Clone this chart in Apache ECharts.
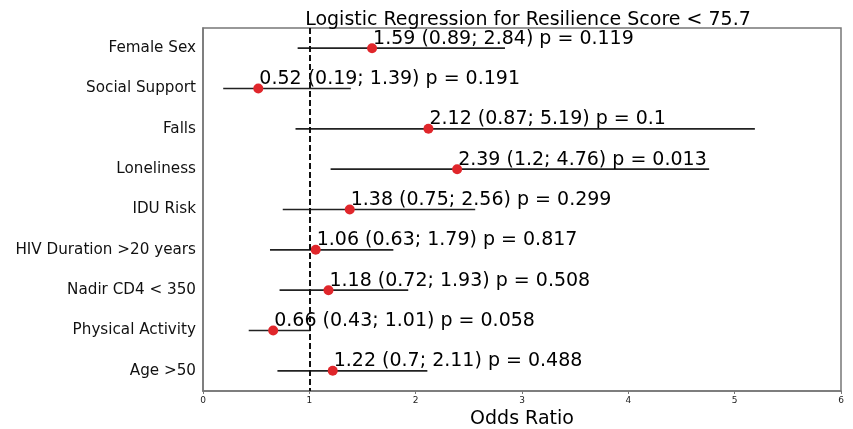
<!DOCTYPE html>
<html><head><meta charset="utf-8">
<script src="https://cdn.jsdelivr.net/npm/echarts@6/dist/echarts.min.js"></script>
<style>html,body{margin:0;padding:0;background:#fff}#c{width:853px;height:429px}</style>
</head><body><div id="c"></div>
<script>
var categories = ["Female Sex","Social Support","Falls","Loneliness","IDU Risk","HIV Duration >20 years","Nadir CD4 < 350","Physical Activity","Age >50"];
var oddsRatio = [1.59,0.52,2.12,2.39,1.38,1.06,1.18,0.66,1.22];
var ciLow = [0.89,0.19,0.87,1.2,0.75,0.63,0.72,0.43,0.7];
var ciHigh = [2.84,1.39,5.19,4.76,2.56,1.79,1.93,1.01,2.11];
var pValues = ["0.119","0.191","0.1","0.013","0.299","0.817","0.508","0.058","0.488"];
var xTicks = [0,1,2,3,4,5,6];

var font = "DejaVu Sans";
var chart = echarts.init(document.getElementById('c'));
var ciData = categories.map(function(c,i){return [ciLow[i], ciHigh[i], i];});
var ptData = categories.map(function(c,i){return [oddsRatio[i], i];});
chart.setOption({
  animation:false,
  title:{text:"Logistic Regression for Resilience Score < 75.7",left:523,textAlign:'center',top:6,
    textStyle:{fontFamily:font,fontSize:19,fontWeight:'normal',color:'#000'}},
  grid:{left:203,right:12,top:28,bottom:38,containLabel:false,outerBoundsMode:'none',
    show:true,borderColor:'#777',borderWidth:1.5},
  xAxis:{type:'value',min:xTicks[0],max:xTicks[xTicks.length-1],interval:1,
    name:'Odds Ratio',nameLocation:'middle',nameGap:17,
    nameTextStyle:{fontFamily:font,fontSize:19,color:'#000'},
    axisLine:{show:true,lineStyle:{color:'#777',width:1.5}},
    axisTick:{show:true,length:3,lineStyle:{color:'#777'}},
    axisLabel:{fontFamily:font,fontSize:9,color:'#222',margin:5},
    splitLine:{show:false}},
  yAxis:{type:'category',data:categories,inverse:true,
    axisLine:{show:true,lineStyle:{color:'#777',width:1.5}},
    axisTick:{show:false},
    axisLabel:{fontFamily:font,fontSize:15.2,color:'#111',margin:7},
    splitLine:{show:false}},
  series:[
    {type:'custom',data:ciData,encode:{x:[0,1],y:2},z:2,
     renderItem:function(params,api){
       var a=api.coord([api.value(0),api.value(2)]);
       var b=api.coord([api.value(1),api.value(2)]);
       return {type:'line',shape:{x1:a[0],y1:a[1],x2:b[0],y2:b[1]},
         style:{stroke:'#222',lineWidth:1.6}};
     }},
    {type:'scatter',data:ptData,symbol:'circle',symbolSize:10,z:4,
     itemStyle:{color:'#e0262b',opacity:1},
     label:{show:true,position:[5,5],align:'left',verticalAlign:'bottom',offset:[1,0],
       fontFamily:font,fontSize:19,color:'#000',opacity:1,
       formatter:function(p){var i=p.dataIndex;
         return oddsRatio[i]+" ("+ciLow[i]+"; "+ciHigh[i]+") p = "+pValues[i];}},
     markLine:{silent:true,symbol:'none',label:{show:false},
       lineStyle:{color:'#111',type:[6,3],width:2},
       data:[{xAxis:1}]}}
  ]
});
</script></body></html>
